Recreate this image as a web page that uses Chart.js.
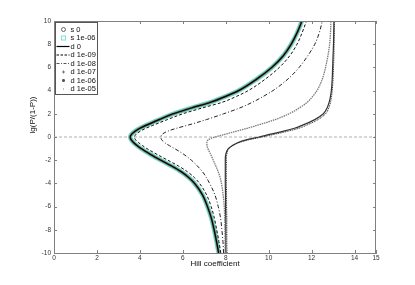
<!DOCTYPE html>
<html><head><meta charset="utf-8">
<script src="https://cdn.jsdelivr.net/npm/chart.js@4"></script>
<style>html,body{margin:0;padding:0;background:#fff}#wrap{width:415px;height:285px}</style>
</head><body><div id="wrap"><canvas id="c" width="415" height="285"></canvas></div>
<script>
// lg(P/(1-P)) levels shared by all curves
const yLevels = [-10,-9,-8,-7,-6,-5,-4,-3.5,-3,-2.5,-2,-1.5,-1,-0.75,-0.5,-0.25,0,0.25,0.5,0.75,1,1.5,2,2.5,3,3.5,4,5,6,7,8,9,10];
// Hill coefficient for each series at those levels
const hillS0   = [7.67,7.57,7.46,7.33,7.15,6.92,6.55,6.28,5.93,5.48,4.98,4.5,4.06,3.88,3.72,3.6,3.55,3.62,3.78,4.0,4.28,4.9,5.55,6.4,7.3,8.0,8.6,9.45,10.15,10.68,11.05,11.33,11.55];
const hillS1e6 = [7.67,7.57,7.46,7.33,7.15,6.92,6.55,6.28,5.93,5.48,4.98,4.5,4.06,3.88,3.72,3.6,3.55,3.62,3.78,4.0,4.28,4.9,5.55,6.4,7.3,8.0,8.6,9.45,10.15,10.68,11.05,11.33,11.55];
const hillD0   = [7.67,7.57,7.46,7.33,7.15,6.92,6.55,6.28,5.93,5.48,4.98,4.5,4.06,3.88,3.72,3.6,3.55,3.62,3.78,4.0,4.28,4.9,5.55,6.4,7.3,8.0,8.6,9.45,10.15,10.68,11.05,11.33,11.55];
const hillD1e9 = [7.77,7.68,7.58,7.47,7.32,7.11,6.78,6.54,6.22,5.8,5.3,4.8,4.33,4.13,3.95,3.8,3.75,3.83,4.02,4.28,4.6,5.28,6.0,6.9,7.85,8.5,9.05,9.85,10.5,10.98,11.32,11.56,11.76];
const hillD1e8 = [7.9,7.87,7.82,7.76,7.65,7.5,7.25,7.1,6.92,6.68,6.4,6.05,5.62,5.38,5.17,5.02,4.98,5.05,5.3,5.7,6.2,7.1,7.9,8.65,9.25,9.75,10.2,10.9,11.42,11.82,12.15,12.36,12.5];
const hillD1e7 = [7.97,7.97,7.96,7.95,7.93,7.88,7.8,7.74,7.65,7.54,7.42,7.3,7.17,7.13,7.12,7.18,7.5,8.0,8.5,9.0,9.45,10.3,10.95,11.42,11.8,12.05,12.25,12.5,12.65,12.76,12.84,12.88,12.9];
const hillD1e6 = [8.0,8.0,8.0,8.0,7.99,7.99,7.98,7.98,7.98,7.98,7.98,8.0,8.12,8.3,8.55,8.95,9.55,10.1,10.7,11.2,11.55,12.15,12.55,12.72,12.82,12.88,12.92,12.96,12.98,13.0,13.02,13.03,13.04];
const hillD1e5 = [8.06,8.05,8.05,8.05,8.04,8.04,8.03,8.03,8.03,8.03,8.03,8.05,8.15,8.32,8.6,9.05,9.7,10.3,10.9,11.4,11.75,12.3,12.65,12.8,12.88,12.93,12.96,13.0,13.02,13.04,13.05,13.06,13.07];
const seriesNames = ['s 0','s 1e-06','d 0','d 1e-09','d 1e-08','d 1e-07','d 1e-06','d 1e-05'];
const xTickValues = [0,2,4,6,8,10,12,14,15];
const yTickValues = [-10,-8,-6,-4,-2,0,2,4,6,8,10];
const zeroLineX = [0,15];
const zeroLineY = [0,0];
const yTitleText = 'lg(P/(1-P))';

const toPts = xs => xs.map((x,i)=>({x:x, y:yLevels[i]}));

const styles = [
  {color:'#6e6e6e', width:2.3, dash:[], order:9, sym:'circle'},
  {color:'rgb(115,215,190)', width:4.6, dash:[], order:10, sym:'square'},
  {color:'#000', width:1.2, dash:[], order:1, sym:'line'},
  {color:'#111', width:1, dash:[3,2], order:2, sym:'dash'},
  {color:'#222', width:1, dash:[4,2,1,2], order:3, sym:'dashdot'},
  {color:'#7c7c7c', width:1.3, dash:[1.5,0.8], order:4, sym:'plus'},
  {color:'#333', width:1.2, dash:[], order:5, sym:'star'},
  {color:'#111', width:0.9, dash:[1,0.8], order:6, sym:'dot'}
];
const allX = [hillS0,hillS1e6,hillD0,hillD1e9,hillD1e8,hillD1e7,hillD1e6,hillD1e5];

const datasets = allX.map((xs,i)=>({
  label: seriesNames[i], data: toPts(xs), showLine:true, pointRadius:0,
  borderColor: styles[i].color, borderWidth: styles[i].width, borderDash: styles[i].dash,
  order: styles[i].order, indexAxis:'y', cubicInterpolationMode:'monotone', fill:false
}));
datasets.push({label:'zero', data: zeroLineX.map((x,i)=>({x:x,y:zeroLineY[i]})), showLine:true, pointRadius:0,
  borderColor:'#b0b0b0', borderWidth:1, borderDash:[3,2], order:20});

const FONT = '"Liberation Sans", Arial, Helvetica, sans-serif';

function drawSym(ctx, kind, cx, cy){
  ctx.save();
  ctx.setLineDash([]);
  ctx.lineWidth = 1;
  if (kind==='circle'){ ctx.strokeStyle='#666'; ctx.beginPath(); ctx.arc(cx,cy,2,0,Math.PI*2); ctx.stroke(); }
  else if (kind==='square'){ ctx.strokeStyle='#7ee0e0'; ctx.strokeRect(cx-2,cy-2,4,4); }
  else if (kind==='line'){ ctx.strokeStyle='#000'; ctx.lineWidth=1.2; ctx.beginPath(); ctx.moveTo(cx-7,cy); ctx.lineTo(cx+6,cy); ctx.stroke(); }
  else if (kind==='dash'){ ctx.strokeStyle='#000'; ctx.setLineDash([2.5,1.5]); ctx.beginPath(); ctx.moveTo(cx-7,cy); ctx.lineTo(cx+6,cy); ctx.stroke(); }
  else if (kind==='dashdot'){ ctx.strokeStyle='#555'; ctx.setLineDash([3,1.5,1,1.5]); ctx.beginPath(); ctx.moveTo(cx-7,cy); ctx.lineTo(cx+6,cy); ctx.stroke(); }
  else if (kind==='plus'){ ctx.strokeStyle='#777'; ctx.beginPath(); ctx.moveTo(cx-1.5,cy); ctx.lineTo(cx+1.5,cy); ctx.moveTo(cx,cy-1.5); ctx.lineTo(cx,cy+1.5); ctx.stroke(); }
  else if (kind==='star'){ ctx.strokeStyle='#555'; ctx.beginPath(); ctx.moveTo(cx-1.5,cy); ctx.lineTo(cx+1.5,cy); ctx.moveTo(cx,cy-1.5); ctx.lineTo(cx,cy+1.5); ctx.moveTo(cx-1.1,cy-1.1); ctx.lineTo(cx+1.1,cy+1.1); ctx.moveTo(cx-1.1,cy+1.1); ctx.lineTo(cx+1.1,cy-1.1); ctx.stroke(); }
  else if (kind==='dot'){ ctx.fillStyle='#888'; ctx.fillRect(cx-0.5,cy-0.5,1,1); }
  ctx.restore();
}

const boxPlugin = {
  id:'boxPlugin',
  afterDatasetsDraw(chart){
    const ctx = chart.ctx, a = chart.chartArea;
    const xs = chart.scales.x, ys = chart.scales.y;
    ctx.save();
    ctx.strokeStyle = '#808080'; ctx.lineWidth = 1; ctx.setLineDash([]);
    ctx.beginPath();
    ctx.moveTo(a.left, a.top+0.5); ctx.lineTo(a.right, a.top+0.5);
    ctx.moveTo(a.right-0.5, a.top); ctx.lineTo(a.right-0.5, a.bottom);
    const tl = 3;
    xTickValues.forEach(v=>{ const p = Math.round(xs.getPixelForValue(v))+0.5;
      ctx.moveTo(p, a.bottom); ctx.lineTo(p, a.bottom-tl);
      ctx.moveTo(p, a.top); ctx.lineTo(p, a.top+tl); });
    yTickValues.forEach(v=>{ const p = Math.round(ys.getPixelForValue(v))+0.5;
      ctx.moveTo(a.left, p); ctx.lineTo(a.left+tl, p);
      ctx.moveTo(a.right, p); ctx.lineTo(a.right-tl, p); });
    ctx.stroke();
    // legend box
    const lx = a.left+1.5, ly = a.top+1.5, lw = 42, lh = 72;
    ctx.fillStyle = '#fff'; ctx.fillRect(lx, ly, lw, lh);
    ctx.strokeStyle = '#555'; ctx.strokeRect(lx, ly, lw, lh);
    ctx.font = '7.5px ' + FONT; ctx.fillStyle = '#111'; ctx.textBaseline = 'middle'; ctx.textAlign='left';
    seriesNames.forEach((n,i)=>{
      const cy = a.top + 8.5 + i*8.5;
      drawSym(ctx, styles[i].sym, lx+8, cy);
      ctx.fillText(n, lx+15, cy);
    });
    ctx.restore();
  },
  afterDraw(chart){
    // y-axis label, placed as in the reference (slightly above the axis centre)
    const ctx = chart.ctx, ys = chart.scales.y;
    ctx.save();
    ctx.font = '8px ' + FONT; ctx.fillStyle = '#111';
    ctx.textAlign = 'center'; ctx.textBaseline = 'middle';
    ctx.translate(33, ys.getPixelForValue(1.9));
    ctx.rotate(-Math.PI/2);
    ctx.fillText(yTitleText, 0, 0);
    ctx.restore();
  }
};

new Chart(document.getElementById('c'), {
  type:'scatter',
  data:{datasets:datasets},
  options:{
    responsive:false, animation:false, devicePixelRatio:1,
    layout:{padding:{left:0, right:39, top:21, bottom:0}},
    plugins:{legend:{display:false}, tooltip:{enabled:false}},
    scales:{
      x:{type:'linear', min:0, max:15,
        afterBuildTicks: s=>{ s.ticks = xTickValues.map(v=>({value:v})); },
        afterFit: s=>{ s.height = 32; },
        grid:{display:false, drawTicks:false},
        border:{display:true, color:'#808080'},
        ticks:{autoSkip:false, maxRotation:0, padding:1, color:'#333', font:{family:FONT, size:6.5}},
        title:{display:true, text:'Hill coefficient', color:'#111', font:{family:FONT, size:8}, padding:{top:0,bottom:16}}
      },
      y:{type:'linear', min:-10, max:10,
        afterBuildTicks: s=>{ s.ticks = yTickValues.map(v=>({value:v})); },
        afterFit: s=>{ s.width = 54; },
        grid:{display:false, drawTicks:false},
        border:{display:true, color:'#808080'},
        ticks:{autoSkip:false, padding:3, color:'#333', font:{family:FONT, size:6.5}},
        title:{display:false, text:yTitleText}
      }
    }
  },
  plugins:[boxPlugin]
});
</script></body></html>
